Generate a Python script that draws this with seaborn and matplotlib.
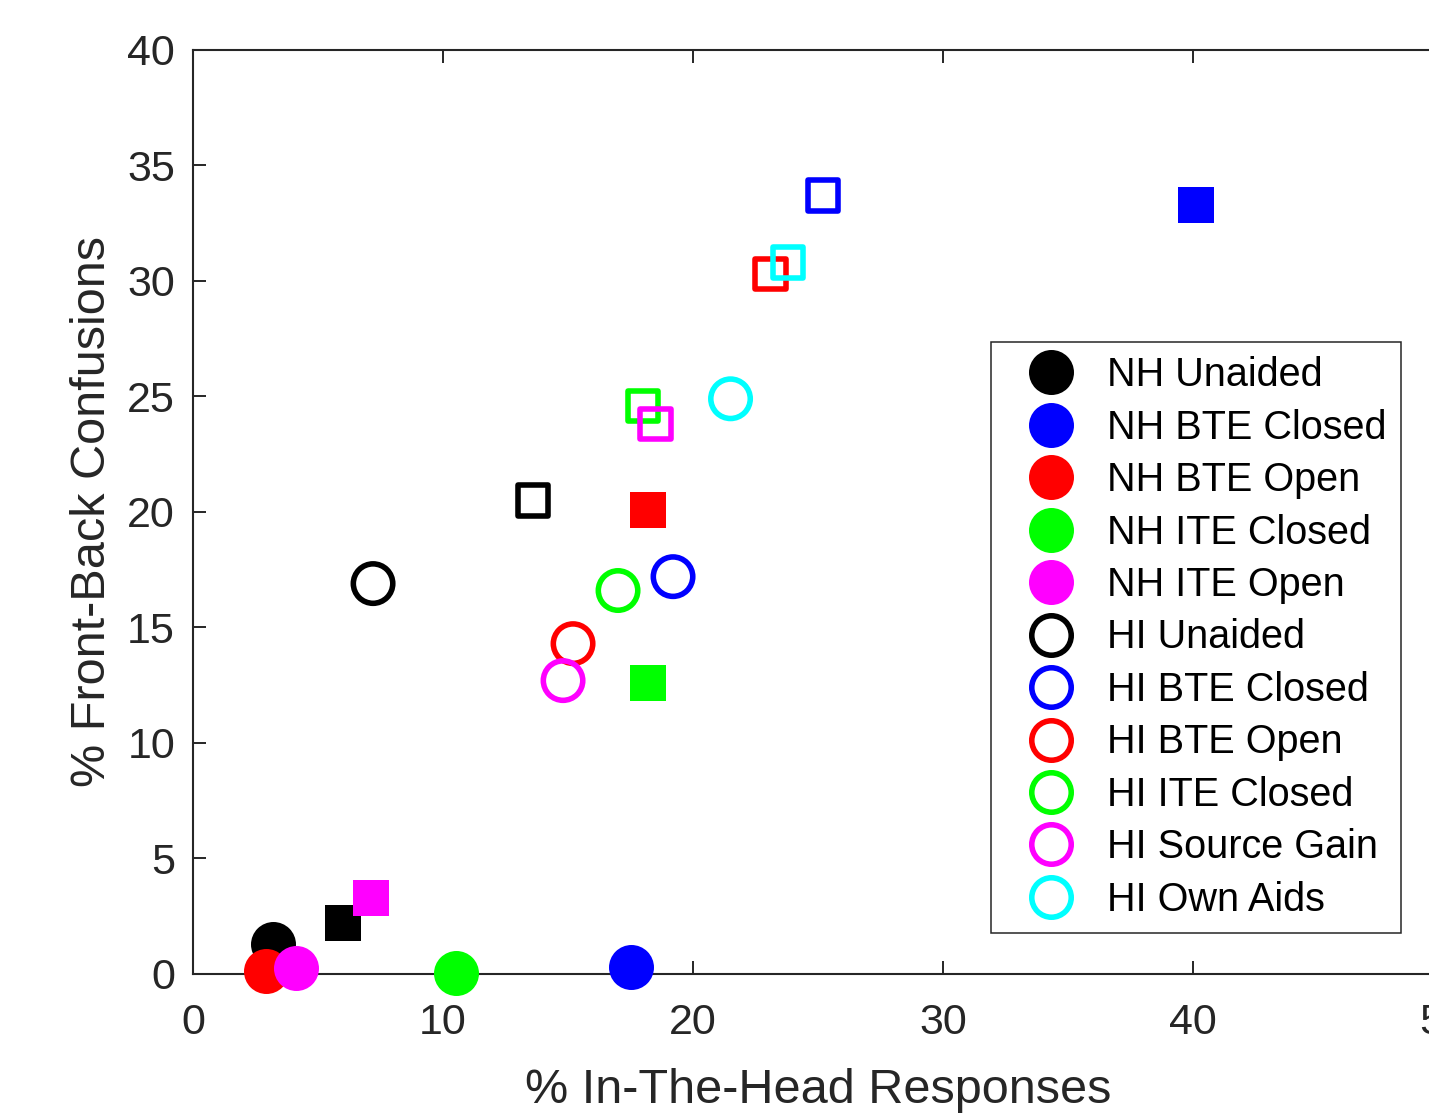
import matplotlib
matplotlib.use("Agg")
import matplotlib.pyplot as plt
from matplotlib.lines import Line2D
import seaborn as sns

# ---- data ----
nh_labels = ["NH Unaided", "NH BTE Closed", "NH BTE Open", "NH ITE Closed", "NH ITE Open"]
nh_colors = ["#000000", "#0000ff", "#ff0000", "#00ff00", "#ff00ff"]
nh_circle_x = [3.2, 17.5, 2.9, 10.5, 4.1]
nh_circle_y = [1.3, 0.3, 0.15, 0.05, 0.25]
nh_square_x = [6.0, 40.1, 18.2, 18.2, 7.1]
nh_square_y = [2.2, 33.3, 20.1, 12.6, 3.3]

hi_labels = ["HI Unaided", "HI BTE Closed", "HI BTE Open", "HI ITE Closed",
             "HI Source Gain", "HI Own Aids"]
hi_colors = ["#000000", "#0000ff", "#ff0000", "#00ff00", "#ff00ff", "#00ffff"]
hi_circle_x = [7.2, 19.2, 15.2, 17.0, 14.8, 21.5]
hi_circle_y = [16.9, 17.2, 14.3, 16.6, 12.7, 24.9]
hi_square_x = [13.6, 25.2, 23.1, 18.0, 18.5, 23.8]
hi_square_y = [20.5, 33.7, 30.3, 24.6, 23.8, 30.8]

x_ticks = [0, 10, 20, 30, 40, 50]
y_ticks = [0, 5, 10, 15, 20, 25, 30, 35, 40]
x_label = "% In-The-Head Responses"
y_label = "% Front-Back Confusions"

# ---- style ----
sns.set_style("ticks")
plt.rcParams["font.family"] = ["Liberation Sans", "DejaVu Sans"]
TXT = "#262626"

fig = plt.figure(figsize=(14.29, 11.13), dpi=100)
ax = fig.add_axes([0.1351, 0.1249, 0.8747, 0.8302])

LW_OPEN = 4.0
FILL_CIRC = 32.4
OPEN_CIRC = 32.4 - LW_OPEN
FILL_SQ = 25.9
OPEN_SQ = 25.9 - LW_OPEN

for i, c in enumerate(nh_colors):
    sns.scatterplot(x=[nh_circle_x[i]], y=[nh_circle_y[i]], marker="o",
                    s=FILL_CIRC ** 2, color=c, edgecolor=c, linewidth=0,
                    ax=ax, clip_on=False, legend=False, zorder=3)
    sns.scatterplot(x=[nh_square_x[i]], y=[nh_square_y[i]], marker="s",
                    s=FILL_SQ ** 2, color=c, edgecolor=c, linewidth=0,
                    ax=ax, clip_on=False, legend=False, zorder=3)
for i, c in enumerate(hi_colors):
    sns.scatterplot(x=[hi_circle_x[i]], y=[hi_circle_y[i]], marker="o",
                    s=OPEN_CIRC ** 2, color=c, facecolor="none", edgecolor=c,
                    linewidth=LW_OPEN, ax=ax, clip_on=False, legend=False, zorder=3)
    sns.scatterplot(x=[hi_square_x[i]], y=[hi_square_y[i]], marker="s",
                    s=OPEN_SQ ** 2, color=c, facecolor="none", edgecolor=c,
                    linewidth=LW_OPEN, ax=ax, clip_on=False, legend=False, zorder=3)

ax.set_xlim(0, 50)
ax.set_ylim(0, 40)
ax.set_xticks(x_ticks)
ax.set_yticks(y_ticks)
ax.tick_params(direction="in", length=9.5, width=1.4, colors=TXT,
               labelsize=31, top=True, right=True)
ax.tick_params(axis="y", pad=13)
ax.tick_params(axis="x", pad=21)
for sp in ax.spines.values():
    sp.set_visible(True)
    sp.set_linewidth(1.5)
    sp.set_color(TXT)
ax.set_xlabel(x_label, fontsize=35, color=TXT, labelpad=18)
ax.set_ylabel(y_label, fontsize=35, color=TXT, labelpad=9)

handles = []
for lab, c in zip(nh_labels, nh_colors):
    handles.append(Line2D([], [], linestyle="none", marker="o", markersize=FILL_CIRC,
                          markerfacecolor=c, markeredgecolor=c, markeredgewidth=0,
                          label=lab))
for lab, c in zip(hi_labels, hi_colors):
    handles.append(Line2D([], [], linestyle="none", marker="o", markersize=OPEN_CIRC,
                          markerfacecolor="none", markeredgecolor=c,
                          markeredgewidth=LW_OPEN, label=lab))

leg = ax.legend(handles=handles, loc="upper left",
                bbox_to_anchor=(991 / 1429, 1 - 342 / 1113),
                bbox_transform=fig.transFigure, borderaxespad=0,
                fontsize=28.5, frameon=True, fancybox=False, framealpha=1,
                edgecolor="#262626", borderpad=0.36, labelspacing=0.365,
                handlelength=2.30, handletextpad=0.28, handleheight=0.7)
leg.get_frame().set_linewidth(1.1)
for t in leg.get_texts():
    t.set_color("#000000")

fig.savefig("out.png", dpi=100)
